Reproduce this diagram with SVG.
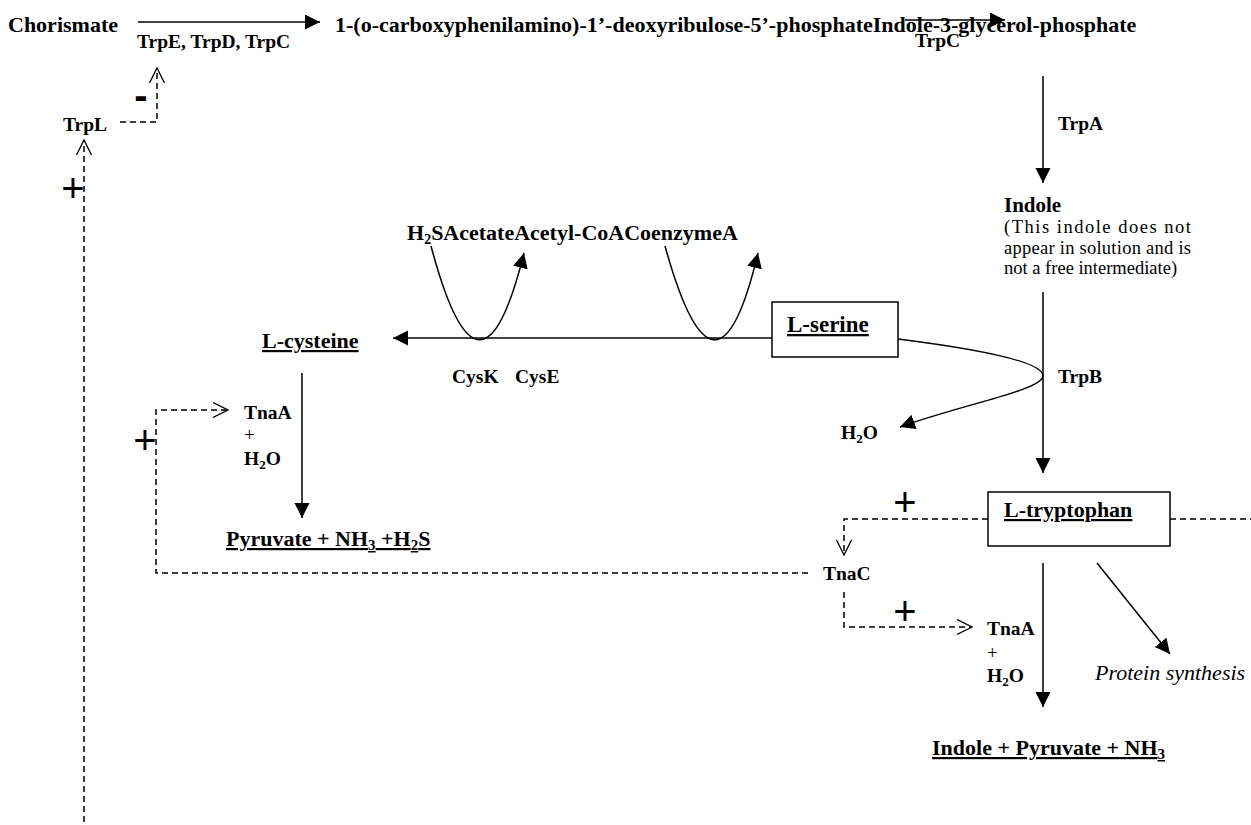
<svg xmlns="http://www.w3.org/2000/svg" width="1251" height="825" viewBox="0 0 1251 825">
<style>
text{font-family:"Liberation Serif","Times New Roman",serif;fill:#000}
.m{font-size:22px;font-weight:bold}
.l{font-size:19.5px;font-weight:bold}
.n{font-size:18.5px}
.u{text-decoration:underline;text-decoration-thickness:2.5px}
.it{font-size:22px;font-style:italic}
.pl{font-family:"Liberation Sans",Arial,sans-serif;font-size:40px;text-anchor:middle}
.sl{font-size:19px}
.ln{fill:none;stroke:#000;stroke-width:1.5}
.ds{fill:none;stroke:#000;stroke-width:1.5;stroke-dasharray:6 4}
.box{fill:#fff;stroke:#000;stroke-width:1.5}
</style>
<defs>
<marker id="fa" markerUnits="userSpaceOnUse" markerWidth="16" markerHeight="16" refX="15" refY="7.5" orient="auto">
<path d="M0,0 L15,7.5 L0,15 z" fill="#000"/>
</marker>
<marker id="oa" markerUnits="userSpaceOnUse" markerWidth="18" markerHeight="18" refX="15" refY="8" orient="auto">
<path d="M0,0.5 L15,8 L0,15.5" fill="none" stroke="#000" stroke-width="1.3" stroke-dasharray="none"/>
</marker>
</defs>

<g id="connectors">
<line class="ln" x1="138" y1="22" x2="320" y2="22" marker-end="url(#fa)"/>
<line class="ln" x1="905" y1="20" x2="1005" y2="20" marker-end="url(#fa)"/>
<line class="ln" x1="1043" y1="76" x2="1043" y2="183" marker-end="url(#fa)"/>
<line class="ln" x1="1043" y1="292" x2="1043" y2="473" marker-end="url(#fa)"/>
<line class="ln" x1="772" y1="338" x2="393" y2="338" marker-end="url(#fa)"/>
<path class="ln" d="M431,246 Q480,430 524,253" marker-end="url(#fa)"/>
<path class="ln" d="M665,246 Q716,430 758,253" marker-end="url(#fa)"/>
<path class="ln" d="M898,339 C985,350 1043,362 1043,376 C1043,390 960,405 900,427" marker-end="url(#fa)"/>
<line class="ln" x1="302" y1="373" x2="302" y2="518" marker-end="url(#fa)"/>
<line class="ln" x1="1043" y1="563" x2="1043" y2="707" marker-end="url(#fa)"/>
<line class="ln" x1="1097" y1="563" x2="1170" y2="654" marker-end="url(#fa)"/>
<path class="ds" d="M120,122 H157 V68" marker-end="url(#oa)"/>
<path class="ds" d="M84,822 V140" marker-end="url(#oa)"/>
<path class="ds" d="M808,573 H156 V410 H228" marker-end="url(#oa)"/>
<path class="ds" d="M988,519 H844 V555" marker-end="url(#oa)"/>
<path class="ds" d="M844,592 V627 H972" marker-end="url(#oa)"/>
<path class="ds" d="M1170,519 H1251"/>
</g>

<g id="chorismate"><text class="m" x="8" y="32">Chorismate</text></g>
<g id="label-trpedc"><text class="l" x="137" y="48">TrpE, TrpD, TrpC</text></g>
<g id="intermediates"><text class="m" x="335" y="32">1-(o-carboxyphenilamino)-1’-deoxyribulose-5’-phosphateIndole-3-glycerol-phosphate</text></g>
<g id="label-trpc"><text class="l" x="915" y="47">TrpC</text></g>
<g id="trpl"><text class="l" x="63" y="131">TrpL</text></g>
<g id="sign-minus"><text class="pl" x="141" y="109" font-weight="bold">-</text></g>
<g id="sign-plus-1"><text class="pl" x="73" y="202">+</text></g>
<g id="label-trpa"><text class="l" x="1058" y="130">TrpA</text></g>
<g id="indole">
<text class="m" x="1004" y="212" style="font-size:21px">Indole</text>
<text class="n" x="1004" y="233" textLength="187" lengthAdjust="spacing">(This indole does not</text>
<text class="n" x="1004" y="254" textLength="187" lengthAdjust="spacing">appear in solution and is</text>
<text class="n" x="1004" y="274">not a free intermediate)</text>
</g>
<g id="cofactors"><text class="m" x="407" y="240">H<tspan font-size="14" dy="4">2</tspan><tspan dy="-4">SAcetateAcetyl-CoACoenzymeA</tspan></text></g>
<g id="label-cys"><text class="l" x="452" y="383">CysK</text><text class="l" x="515" y="383">CysE</text></g>
<g id="l-serine"><rect class="box" x="772" y="302" width="126" height="55"/><text class="m u" x="787" y="332" style="font-size:23px">L-serine</text></g>
<g id="label-trpb"><text class="l" x="1058" y="383">TrpB</text></g>
<g id="water-1"><text class="l" x="841" y="439">H<tspan font-size="13" dy="4">2</tspan><tspan dy="-4">O</tspan></text></g>
<g id="l-cysteine"><text class="m u" x="262" y="348">L-cysteine</text></g>
<g id="tnaa-1"><text class="l" x="244" y="419">TnaA</text><text class="sl" x="244" y="441">+</text><text class="l" x="244" y="465">H<tspan font-size="13" dy="4">2</tspan><tspan dy="-4">O</tspan></text></g>
<g id="sign-plus-2"><text class="pl" x="145" y="454">+</text></g>
<g id="cys-products"><text class="m u" x="226" y="546">Pyruvate + NH<tspan font-size="15" dy="4">3</tspan><tspan dy="-4"> +H</tspan><tspan font-size="15" dy="4">2</tspan><tspan dy="-4">S</tspan></text></g>
<g id="l-tryptophan"><rect class="box" x="988" y="492" width="182" height="54"/><text class="m u" x="1004" y="517">L-tryptophan</text></g>
<g id="sign-plus-3"><text class="pl" x="905" y="516">+</text></g>
<g id="tnac"><text class="l" x="823" y="580">TnaC</text></g>
<g id="sign-plus-4"><text class="pl" x="905" y="625">+</text></g>
<g id="tnaa-2"><text class="l" x="987" y="635">TnaA</text><text class="sl" x="987" y="659">+</text><text class="l" x="987" y="682">H<tspan font-size="13" dy="4">2</tspan><tspan dy="-4">O</tspan></text></g>
<g id="protein-synthesis"><text class="it" x="1095" y="680">Protein synthesis</text></g>
<g id="trp-products"><text class="m u" x="932" y="755">Indole + Pyruvate + NH<tspan font-size="15" dy="4">3</tspan></text></g>
</svg>
